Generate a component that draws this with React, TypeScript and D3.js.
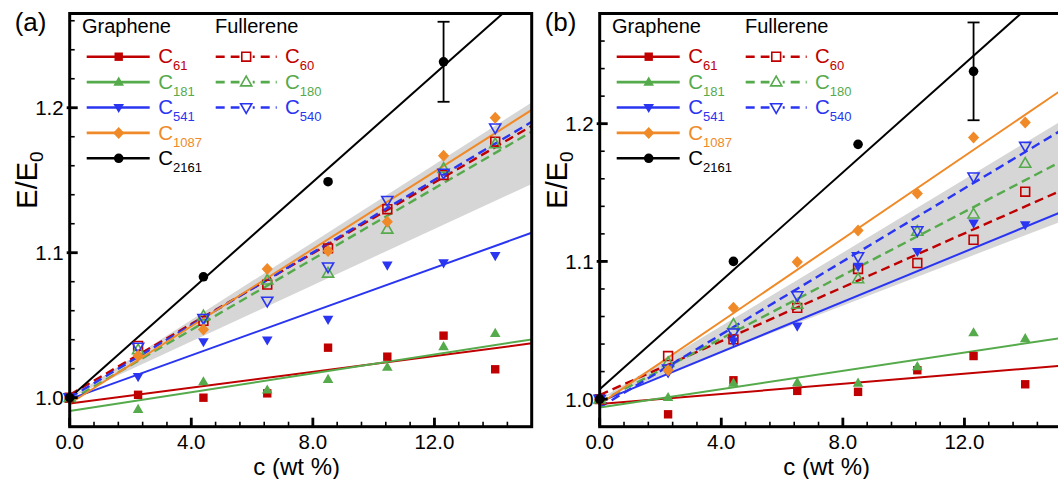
import React from 'react';
import * as d3 from 'd3';

// ---------- data ----------
const concentrations = [0, 2.25, 4.4, 6.5, 8.5, 10.45, 12.3, 14.0];
const concentrationsC2161 = [0, 4.4, 8.5, 12.3];

const seriesLabels = ['61', '181', '541', '1087', '2161', '60', '180', '540'];
const seriesColors = ['#c00000', '#55aa4b', '#2a35f2', '#f08a28', '#000000', '#c00000', '#55aa4b', '#2a35f2'];
const seriesShapes = ['square', 'triUp', 'triDown', 'diamond', 'circle', 'square', 'triUp', 'triDown'];
const seriesFilled = [true, true, true, true, true, false, false, false];
const seriesDashed = [false, false, false, false, false, true, true, true];

// panel (a)
const aC61 = [1.0, 1.002, 1.0, 1.003, 1.0345, 1.0283, 1.0428, 1.0196];
const aC181 = [1.0, 0.992, 1.011, 1.0053, 1.0127, 1.021, 1.0352, 1.0444];
const aC541 = [1.0, 1.0145, 1.0386, 1.0398, 1.054, 1.0915, 1.093, 1.098];
const aC1087 = [1.0, 1.029, 1.047, 1.0888, 1.1012, 1.1214, 1.1669, 1.1931];
const aC2161 = [1.0, 1.0834, 1.149, 1.2317];
const aC60 = [1.0, 1.0357, 1.053, 1.078, 1.103, 1.13, 1.1536, 1.1766];
const aC180 = [1.0, 1.033, 1.0563, 1.081, 1.0858, 1.1161, 1.158, 1.175];
const aC540 = [1.0, 1.035, 1.0548, 1.0667, 1.0903, 1.1362, 1.155, 1.1862];
const aFitIntercepts = [0.996, 0.9908, 0.999, 0.996, 1.0, 1.002, 0.998, 1.0];
const aFitSlopes = [0.00273, 0.00325, 0.00755, 0.01332, 0.0186, 0.0122, 0.0122, 0.01252];
const aBand = [1.0, 0.0097, 0.0134]; // intercept, lower slope, upper slope
const aErr = 0.0276;
const aYDomain = [0.98, 1.265];

// panel (b)
const bC61 = [1.0, 0.989, 1.0137, 1.006, 1.0053, 1.021, 1.0313, 1.0108];
const bC181 = [1.0, 1.0012, 1.0116, 1.012, 1.0116, 1.0236, 1.0482, 1.0439];
const bC541 = [1.0, 1.019, 1.0422, 1.053, 1.0964, 1.1072, 1.1278, 1.1265];
const bC1087 = [1.0, 1.021, 1.0663, 1.0995, 1.1224, 1.1494, 1.19, 1.2008];
const bC2161 = [1.0, 1.1, 1.185, 1.238];
const bC60 = [1.0, 1.0313, 1.0434, 1.0663, 1.0945, 1.0988, 1.1157, 1.1506];
const bC180 = [1.0, 1.0265, 1.0542, 1.0687, 1.0873, 1.1217, 1.1343, 1.1711];
const bC540 = [1.0, 1.022, 1.0482, 1.0752, 1.1036, 1.1224, 1.1615, 1.1837];
const bFitIntercepts = [0.9964, 0.994, 0.998, 0.9964, 1.0072, 1.003, 0.998, 0.994];
const bFitSlopes = [0.00184, 0.00332, 0.00908, 0.01501, 0.01968, 0.00978, 0.0115, 0.01325];
const bBand = [1.0, 0.0085, 0.0133];
const bErr = 0.0355;
const bYDomain = [0.98, 1.28];

const xDomain = [0, 15.2];
const xMajorTicks = [0, 4, 8, 12];
const xTickLabels = ['0.0', '4.0', '8.0', '12.0'];
const yMajorTicks = [1.0, 1.1, 1.2];
const yTickLabels = ['1.0', '1.1', '1.2'];

const FONT = 'Liberation Sans, Arial, Helvetica, sans-serif';

function markerPath(shape: string, open: boolean) {
  const k = open ? 1.05 : 1;
  switch (shape) {
    case 'square': {
      const h = 4.2 * k;
      return `M${-h},${-h}H${h}V${h}H${-h}Z`;
    }
    case 'triUp':
      return `M0,${-5.6 * k}L${5.3 * k},${3.6 * k}L${-5.3 * k},${3.6 * k}Z`;
    case 'triDown':
      return `M0,${5.6 * k}L${5.3 * k},${-3.6 * k}L${-5.3 * k},${-3.6 * k}Z`;
    case 'diamond':
      return `M0,-6L5.6,0L0,6L-5.6,0Z`;
    default:
      return '';
  }
}

function Marker({ shape, color, filled, cx, cy }: any) {
  if (shape === 'circle') {
    return <circle cx={cx} cy={cy} r={4.8} fill={color} />;
  }
  return (
    <path
      d={markerPath(shape, !filled)}
      transform={`translate(${cx},${cy})`}
      fill={filled ? color : 'none'}
      stroke={color}
      strokeWidth={filled ? 0 : 1.6}
    />
  );
}

function Panel(props: any) {
  const { id, left, right, top, bottom, yDomain, values, intercepts, slopes, band, errHalf, tag } = props;
  const x = d3.scaleLinear().domain(xDomain).range([left, right]);
  const y = d3.scaleLinear().domain(yDomain).range([bottom, top]);

  const xMinor = d3.range(0, 20).map((i) => Math.round(i * 8) / 10).filter((v) => v <= xDomain[1] + 1e-9);
  const yMinor = d3
    .range(0, 30)
    .map((i) => Math.round((yDomain[0] + i * 0.02) * 1000) / 1000)
    .filter((v) => v <= yDomain[1] + 1e-9);

  const bandArea = d3
    .area<number>()
    .x((d) => x(d))
    .y0((d) => y(band[0] + band[1] * d))
    .y1((d) => y(band[0] + band[2] * d));
  const line = d3
    .line<number[]>()
    .x((d) => x(d[0]))
    .y((d) => y(d[1]));

  const fitPath = (i: number) =>
    line([xDomain[0], xDomain[1]].map((c) => [c, intercepts[i] + slopes[i] * c])) || '';

  const order = [5, 6, 7, 0, 1, 2, 3, 4];
  const errX = x(concentrationsC2161[3]);
  const errY = values[4][3];

  const legX = left;
  const rowY = (i: number) => 56.7 + i * 25.4;

  return (
    <g>
      <defs>
        <clipPath id={`clip-${id}`}>
          <rect x={left} y={top} width={right - left} height={bottom - top} />
        </clipPath>
      </defs>
      <g clipPath={`url(#clip-${id})`}>
        <path d={bandArea([0, xDomain[1]]) || ''} fill="#d6d6d6" />
        {order.map((i) => (
          <path
            key={`fit-${i}`}
            d={fitPath(i)}
            fill="none"
            stroke={seriesColors[i]}
            strokeWidth={seriesDashed[i] ? 2.4 : 2}
            strokeDasharray={seriesDashed[i] ? '9,5' : undefined}
          />
        ))}
      </g>
      {/* error bar */}
      <g stroke="#000" strokeWidth={1.8}>
        <line x1={errX} x2={errX} y1={y(errY - errHalf)} y2={y(errY + errHalf)} />
        <line x1={errX - 6} x2={errX + 6} y1={y(errY - errHalf)} y2={y(errY - errHalf)} />
        <line x1={errX - 6} x2={errX + 6} y1={y(errY + errHalf)} y2={y(errY + errHalf)} />
      </g>
      {/* markers */}
      {order.map((i) => {
        const xs = i === 4 ? concentrationsC2161 : concentrations;
        return (
          <g key={`m-${i}`}>
            {values[i].map((v: number, j: number) => (
              <Marker
                key={j}
                shape={seriesShapes[i]}
                color={seriesColors[i]}
                filled={seriesFilled[i]}
                cx={x(xs[j])}
                cy={y(v)}
              />
            ))}
          </g>
        );
      })}
      {/* ticks */}
      <g stroke="#000">
        {xMinor.map((t) => (
          <line key={`xm${t}`} x1={x(t)} x2={x(t)} y1={bottom} y2={bottom - 5} strokeWidth={1.6} />
        ))}
        {xMajorTicks.map((t) => (
          <line key={`xM${t}`} x1={x(t)} x2={x(t)} y1={bottom} y2={bottom - 9} strokeWidth={2.8} />
        ))}
        {yMinor.map((t) => (
          <line key={`ym${t}`} x1={left} x2={left + 5} y1={y(t)} y2={y(t)} strokeWidth={1.6} />
        ))}
        {yMajorTicks.map((t) => (
          <line key={`yM${t}`} x1={left - 3} x2={left + 8} y1={y(t)} y2={y(t)} strokeWidth={2.8} />
        ))}
      </g>
      {/* frame */}
      <rect x={left} y={top} width={right - left} height={bottom - top} fill="none" stroke="#000" strokeWidth={3} />
      {/* tick labels */}
      <g fontFamily={FONT} fontSize={20.5} fill="#000">
        {xMajorTicks.map((t, i) => (
          <text key={`xl${t}`} x={x(t)} y={448.5} textAnchor="middle">
            {xTickLabels[i]}
          </text>
        ))}
        {yMajorTicks.map((t, i) => (
          <text key={`yl${t}`} x={left - 6} y={y(t)} dy="0.36em" textAnchor="end">
            {yTickLabels[i]}
          </text>
        ))}
      </g>
      {/* axis titles */}
      <text x={(left + right) / 2 - 4} y={474.5} textAnchor="middle" fontFamily={FONT} fontSize={24}>
        c (wt %)
      </text>
      <text
        transform={`translate(${left - 33},180) rotate(-90)`}
        textAnchor="middle"
        fontFamily={FONT}
        fontSize={29}
      >
        E/E<tspan fontSize={19} dy={6}>0</tspan>
      </text>
      <text x={left - 55} y={31} fontFamily={FONT} fontSize={26}>
        {tag}
      </text>
      {/* legend */}
      <g fontFamily={FONT}>
        <text x={legX + 12.3} y={32.7} fontSize={20}>Graphene</text>
        <text x={legX + 145.3} y={32.7} fontSize={20}>Fullerene</text>
        {[0, 1, 2, 3, 4].map((i, r) => (
          <g key={`lg${i}`}>
            <line x1={legX + 17} x2={legX + 80} y1={rowY(r)} y2={rowY(r)} stroke={seriesColors[i]} strokeWidth={2.6} />
            <Marker shape={seriesShapes[i]} color={seriesColors[i]} filled={true} cx={legX + 49} cy={rowY(r)} />
            <text x={legX + 88.5} y={rowY(r) + 6.7} fontSize={20.5} fill={seriesColors[i]}>
              C<tspan fontSize={13} dy={7}>{seriesLabels[i]}</tspan>
            </text>
          </g>
        ))}
        {[5, 6, 7].map((i, r) => (
          <g key={`lf${i}`}>
            <line
              x1={legX + 146}
              x2={legX + 207}
              y1={rowY(r)}
              y2={rowY(r)}
              stroke={seriesColors[i]}
              strokeWidth={2.6}
              strokeDasharray="9,6"
            />
            <rect x={legX + 170} y={rowY(r) - 6} width={13} height={12} fill="#fff" />
            <Marker shape={seriesShapes[i]} color={seriesColors[i]} filled={false} cx={legX + 176.5} cy={rowY(r)} />
            <text x={legX + 215.3} y={rowY(r) + 6.7} fontSize={20.5} fill={seriesColors[i]}>
              C<tspan fontSize={13} dy={7}>{seriesLabels[i]}</tspan>
            </text>
          </g>
        ))}
      </g>
    </g>
  );
}

export default function App() {
  const aValues = [aC61, aC181, aC541, aC1087, aC2161, aC60, aC180, aC540];
  const bValues = [bC61, bC181, bC541, bC1087, bC2161, bC60, bC180, bC540];
  return (
    <svg
      width={1058}
      height={479}
      style={{ position: 'absolute', left: 0, top: 0, background: '#fff' }}
    >
      <rect x={0} y={0} width={1058} height={479} fill="#fff" />
      <Panel
        id="a"
        tag="(a)"
        left={69.7}
        right={531.7}
        top={13.5}
        bottom={426.7}
        yDomain={aYDomain}
        values={aValues}
        intercepts={aFitIntercepts}
        slopes={aFitSlopes}
        band={aBand}
        errHalf={aErr}
      />
      <Panel
        id="b"
        tag="(b)"
        left={599.7}
        right={1061.7}
        top={13.5}
        bottom={426.7}
        yDomain={bYDomain}
        values={bValues}
        intercepts={bFitIntercepts}
        slopes={bFitSlopes}
        band={bBand}
        errHalf={bErr}
      />
    </svg>
  );
}
